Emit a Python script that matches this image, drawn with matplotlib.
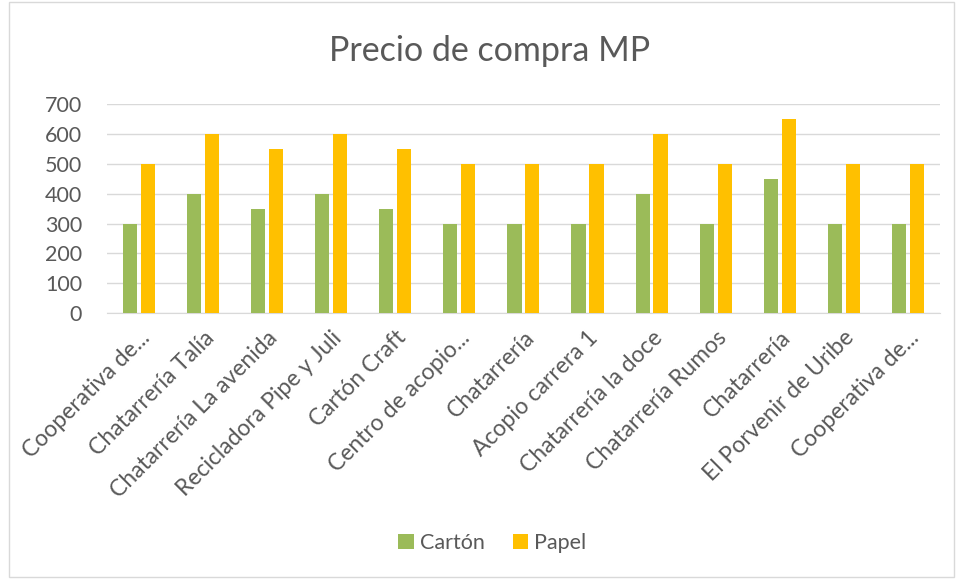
import numpy as np
import matplotlib
matplotlib.use("Agg")
import matplotlib.pyplot as plt
from matplotlib.patches import Rectangle

# data
categories = ["Cooperativa de...", "Chatarrería Talía", "Chatarrería La avenida",
              "Recicladora Pipe y Juli", "Cartón Craft", "Centro de acopio...",
              "Chatarrería", "Acopio carrera 1", "Chatarrería la doce",
              "Chatarrería Rumos", "Chatarrería", "El Porvenir de Uribe",
              "Cooperativa de..."]
carton = [300, 400, 350, 400, 350, 300, 300, 300, 400, 300, 450, 300, 300]
papel = [500, 600, 550, 600, 550, 500, 500, 500, 600, 500, 650, 500, 500]
yticks = [0, 100, 200, 300, 400, 500, 600, 700]

text_color = "#595959"
plt.rcParams["font.family"] = ["Lato", "DejaVu Sans"]

fig = plt.figure(figsize=(9.6, 5.79), dpi=100)
fig.patches.append(Rectangle((0.009, 0.003), 0.985, 0.994, transform=fig.transFigure,
                             fill=False, edgecolor="#d9d9d9", linewidth=1))
ax = fig.add_axes([0.1115, 0.459, 0.8675, 0.3614])

x = np.arange(len(categories))
w = 0.22
ax.bar(x - w / 2 - 0.03, carton, width=w, color="#9bbb59", label="Cartón", zorder=3)
ax.bar(x + w / 2 + 0.03, papel, width=w, color="#ffc000", label="Papel", zorder=3)

ax.set_xlim(-0.5, len(categories) - 0.5)
ax.set_ylim(0, 700)
ax.set_yticks(yticks)
ax.yaxis.grid(True, color="#d9d9d9", linewidth=1, zorder=0)
ax.tick_params(axis="y", length=0, labelsize=15.5, labelcolor=text_color, pad=18)
ax.tick_params(axis="x", length=0, labelsize=16.5, labelcolor=text_color, pad=10)
ax.set_xticks(x)
ax.set_xticklabels(categories, rotation=45, ha="right", rotation_mode="anchor")
for s in ["top", "right", "left"]:
    ax.spines[s].set_visible(False)
ax.spines["bottom"].set_color("#d9d9d9")

fig.text(0.51, 0.912, "Precio de compra MP", ha="center", va="center",
         fontsize=24.5, color=text_color)
fig.legend(loc="center", bbox_to_anchor=(0.513, 0.062), ncol=2, frameon=False,
           fontsize=15.5, labelcolor=text_color, handlelength=0.7, handleheight=0.7,
           columnspacing=1.3, handletextpad=0.3)

fig.savefig("out.png", dpi=100)
